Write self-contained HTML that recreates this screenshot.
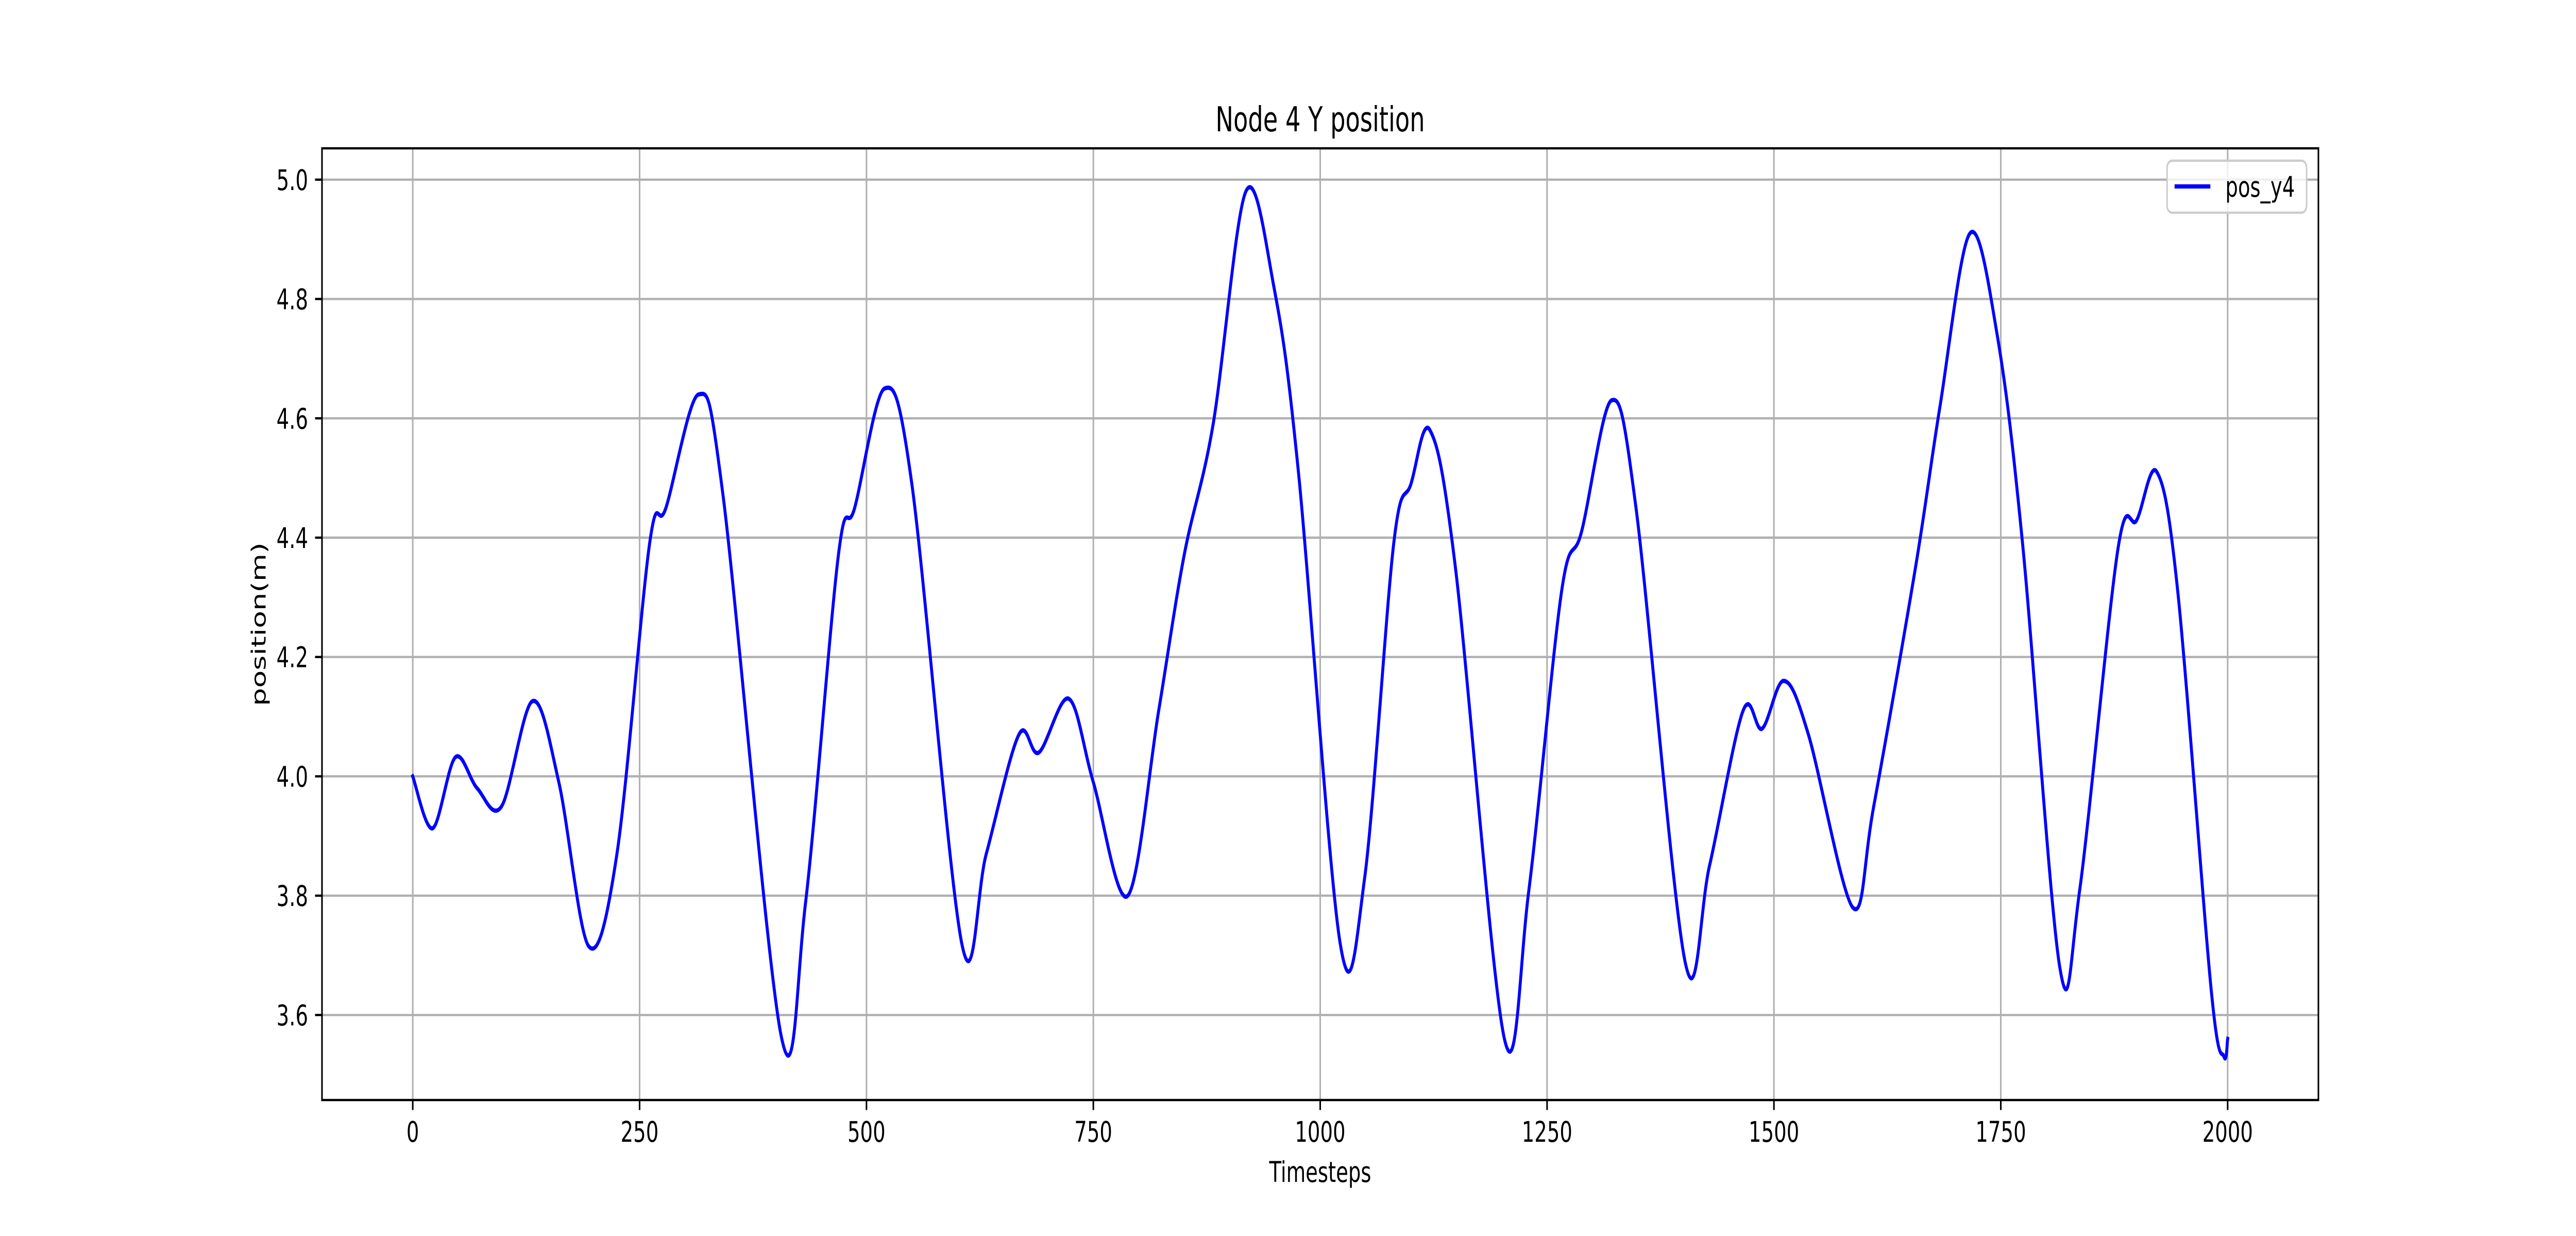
<!DOCTYPE html>
<html><head><meta charset="utf-8"><style>
html,body{margin:0;padding:0;background:#fff;width:100%;height:100%;overflow:hidden;}
svg{display:block;width:100vw;height:100vh;font-family:"DejaVu Sans","Liberation Sans",sans-serif;}
</style></head><body>
<svg id="chart" viewBox="0 0 7200 2400" preserveAspectRatio="none" xmlns="http://www.w3.org/2000/svg">
<rect width="7200" height="2400" fill="#fff"/>
<g id="grid"></g>
<g id="series"></g>
<rect x="900" y="288" width="5580" height="1848" fill="none" stroke="#000" stroke-width="4.4"/>
<g id="ticks"></g>
<text x="3690" y="255" font-size="66.7" text-anchor="middle">Node 4 Y position</text>
<text x="3690" y="2295" font-size="55.6" text-anchor="middle">Timesteps</text>
<text x="0" y="0" font-size="55.6" text-anchor="middle" transform="translate(742,1212) rotate(-90)">position(m)</text>
<g>
<rect x="6057" y="312" width="390" height="101" rx="14" fill="#fff" fill-opacity="0.8" stroke="#ccc" stroke-width="4.4"/>
<line x1="6078" y1="362" x2="6178" y2="362" stroke="#0000ff" stroke-width="8.3"/>
<text x="6220" y="382" font-size="55.6">pos_y4</text>
</g>
</svg>
<script>
const timesteps = [0,22,47,71,98,132,161,194,225,261,279,315,342,406,433,469,487,520,550,605,632,668,690,723,750,788,822,850,882,918,949,976,1022,1049,1081,1100,1121,1149,1203,1230,1266,1288,1321,1348,1402,1429,1466,1487,1511,1538,1587,1610,1656,1683,1716,1746,1774,1815,1837,1879,1900,1922,1945,1982,1996,2000];
const positions = [4.0,3.913,4.032,3.98,3.95,4.126,3.99,3.715,3.87,4.39,4.45,4.64,4.47,3.565,3.79,4.37,4.45,4.65,4.49,3.72,3.87,4.07,4.04,4.13,3.99,3.80,4.11,4.37,4.59,4.98,4.82,4.51,3.72,3.83,4.39,4.49,4.58,4.35,3.56,3.81,4.31,4.41,4.63,4.45,3.69,3.85,4.11,4.08,4.16,4.07,3.78,3.95,4.35,4.62,4.91,4.74,4.39,3.68,3.81,4.38,4.43,4.51,4.31,3.64,3.53,3.56];
const xTicks = [0,250,500,750,1000,1250,1500,1750,2000];
const yTicks = [3.6,3.8,4.0,4.2,4.4,4.6,4.8,5.0];
const xTickLabels = ["0","250","500","750","1000","1250","1500","1750","2000"];
const yTickLabels = ["3.6","3.8","4.0","4.2","4.4","4.6","4.8","5.0"];

const NS="http://www.w3.org/2000/svg";
const L=900,R=6480,T=288,B=2136;
const xMin=-100,xMax=2100,yMin=3.4575,yMax=5.0525;
function sx(v){return L+(v-xMin)/(xMax-xMin)*(R-L);}
function sy(v){return B-(v-yMin)/(yMax-yMin)*(B-T);}
function mk(tag,attrs,parent){const e=document.createElementNS(NS,tag);for(const k in attrs)e.setAttribute(k,attrs[k]);parent.appendChild(e);return e;}
const grid=document.getElementById('grid'),ticks=document.getElementById('ticks'),series=document.getElementById('series');
xTicks.forEach((v,i)=>{
  const x=sx(v);
  const g=mk('line',{x1:x,x2:x,y1:T,y2:B,stroke:'#b0b0b0','stroke-width':4.4},grid);
  
  
  const t=mk('line',{x1:x,x2:x,y1:B,y2:B+19.4,stroke:'#000','stroke-width':4.4},ticks);
  
  
  const lb=mk('text',{x:x,y:B+19.4+19.4+42,'font-size':55.6,'text-anchor':'middle'},ticks);
  lb.textContent=xTickLabels[i];
  
  
});
yTicks.forEach((v,i)=>{
  const y=sy(v);
  const g=mk('line',{x1:L,x2:R,y1:y,y2:y,stroke:'#b0b0b0','stroke-width':4.4},grid);
  
  
  const t=mk('line',{x1:L-19.4,x2:L,y1:y,y2:y,stroke:'#000','stroke-width':4.4},ticks);
  
  
  const lb=mk('text',{x:L-19.4-19.4,y:y+20,'font-size':55.6,'text-anchor':'end'},ticks);
  lb.textContent=yTickLabels[i];
  
  
});
const pts=timesteps.map((t,i)=>[sx(t),sy(positions[i])]);
let d='M'+pts[0][0]+','+pts[0][1];
for(let i=0;i<pts.length-1;i++){
  const p0=pts[Math.max(0,i-1)],p1=pts[i],p2=pts[i+1],p3=pts[Math.min(pts.length-1,i+2)];
  const c1=[p1[0]+(p2[0]-p0[0])/6,p1[1]+(p2[1]-p0[1])/6];
  const c2=[p2[0]-(p3[0]-p1[0])/6,p2[1]-(p3[1]-p1[1])/6];
  d+=' C'+c1[0]+','+c1[1]+' '+c2[0]+','+c2[1]+' '+p2[0]+','+p2[1];
}
const path=mk('path',{d:d,fill:'none',stroke:'#0000ff','stroke-width':8.3,'stroke-linejoin':'round','stroke-linecap':'square'},series);


</script>
</body></html>
